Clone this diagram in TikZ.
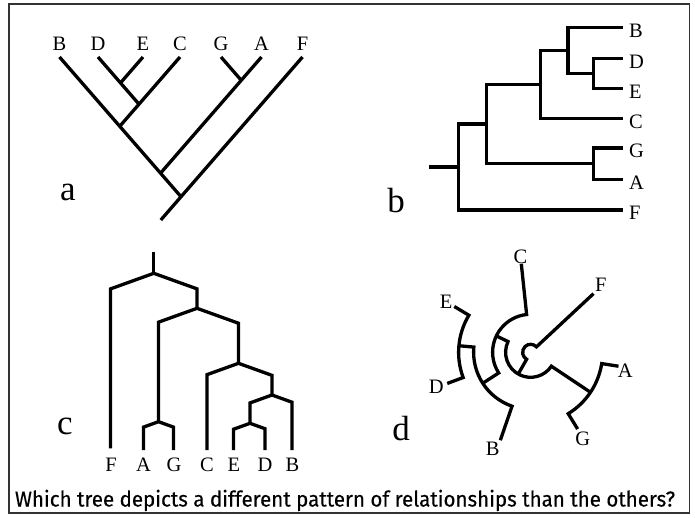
\documentclass[tikz,border=0pt]{standalone}
\usepackage{fontspec}
\usepackage{graphicx}
\setmainfont{Liberation Serif}
\newfontfamily\capfont[BoldFont={Fira Sans}, BoldFeatures={FakeBold=0.35}]{Fira Sans}
\usetikzlibrary{calc}

% elbow pair for the slanted-shoulder tree: parent #1, children #2 and #3
\newcommand{\shoulderpair}[3]{%
  \draw[branch] let \p0=(#1), \p1=(#2), \p2=(#3) in
    (\p1) -- (\x1,{\y0-0.36*abs(\x1-\x0)}) -- (\p0)
          -- (\x2,{\y0-0.36*abs(\x2-\x0)}) -- (\p2);}

\begin{document}
\begin{tikzpicture}[x=1pt,y=-1pt,
  branch/.style={line width=3.3pt, line join=miter, line cap=butt},
  leaf/.style={font=\fontsize{20.5}{20.5}\selectfont, inner sep=0pt},
  panel/.style={font=\fontsize{35}{35}\selectfont, inner sep=0pt},
  frame/.style={line width=1.3pt, draw=black!80},
]
\useasboundingbox (0,0) rectangle (695,517);
\draw[frame] (9,4) rectangle (689.5,513);

% ---------- tree a: slanted cladogram ----------
\coordinate (aB) at (59.5,57);
\coordinate (aD) at (98,57);
\coordinate (aE) at (143,57);
\coordinate (aC) at (180,57);
\coordinate (aG) at (221,57);
\coordinate (aA) at (261.5,57);
\coordinate (aF) at (302.5,57);
\coordinate (aDE) at (120.5,82.9);
\coordinate (aDEC) at (139,104.2);
\coordinate (aBDEC) at (119.75,126.3);
\coordinate (aGA) at (241.25,80.3);
\coordinate (aSix) at (160.5,173.2);
\coordinate (aTop) at (181,196.7);
\coordinate (aRoot) at (160.8,220);
\draw[branch] (aB) -- (aTop);
\draw[branch] (aF) -- (aRoot);
\draw[branch] (aD) -- (aDEC);
\draw[branch] (aE) -- (aDE);
\draw[branch] (aC) -- (aBDEC);
\draw[branch] (aG) -- (aGA);
\draw[branch] (aA) -- (aSix);
\foreach \n/\x in {B/59.5,D/98,E/143,C/180,G/221,A/261.5,F/302.5}
  \node[leaf] (aL\n) at (\x,43.5) {\n};
\node[panel] (pa) at (68,192) {a};

% ---------- tree b: rectangular cladogram ----------
\coordinate (bB) at (622.5,27.5);
\coordinate (bD) at (622.5,58.5);
\coordinate (bE) at (622.5,88.5);
\coordinate (bC) at (622.5,118.5);
\coordinate (bG) at (622.5,148);
\coordinate (bA) at (622.5,179.5);
\coordinate (bF) at (622.5,210);
\coordinate (bDE) at (593.5,73.5);
\coordinate (bBDE) at (568,50.5);
\coordinate (bBDEC) at (540.5,84.5);
\coordinate (bGA) at (593.5,163.75);
\coordinate (bIn) at (486.5,124.1);
\coordinate (bR) at (458.5,167);
\coordinate (bStub) at (428.5,167);
\draw[branch] (bD) -| (bDE) |- (bE);
\draw[branch] (bB) -| (bBDE) |- (bDE);
\draw[branch] (bBDE) -| (bBDEC) |- (bC);
\draw[branch] (bG) -| (bGA) |- (bA);
\draw[branch] (bBDEC) -| (bIn) |- (bGA);
\draw[branch] (bIn) -| (bR) |- (bF);
\draw[branch] (bR) -- (bStub);
\foreach \n/\y in {B/27.5,D/58.5,E/88.5,C/118.5,G/148,A/179.5,F/210}
  \node[leaf, anchor=west] (bL\n) at (629,\y+3) {\n};
\node[panel] (pb) at (396,201) {b};

% ---------- tree c: shouldered cladogram ----------
\coordinate (cTop) at (153.8,251.7);
\coordinate (cR) at (153.8,273.3);
\coordinate (cF) at (110.5,448.3);
\coordinate (cN1) at (197,308.3);
\coordinate (cAG) at (158.5,421.7);
\coordinate (cN2) at (238.5,363.3);
\coordinate (cA) at (143.5,450);
\coordinate (cG) at (173.5,450);
\coordinate (cC) at (207,450);
\coordinate (cN3) at (272,395);
\coordinate (cDE) at (250,423.3);
\coordinate (cB) at (292,450);
\coordinate (cE) at (233.5,450);
\coordinate (cD) at (265,450);
\draw[branch] (cTop) -- (cR);
\shoulderpair{cR}{cF}{cN1}
\shoulderpair{cN1}{cAG}{cN2}
\shoulderpair{cAG}{cA}{cG}
\shoulderpair{cN2}{cC}{cN3}
\shoulderpair{cN3}{cDE}{cB}
\shoulderpair{cDE}{cE}{cD}
\foreach \n/\x in {F/111,A/143.5,G/174,C/207,E/234,D/265,B/292.5}
  \node[leaf] (cL\n) at (\x,465) {\n};
\node[panel] (pc) at (65,426) {c};

% ---------- tree d: circular cladogram ----------
\begin{scope}[shift={(530.6,352.3)}, y=1pt]
  \coordinate (dO) at (0,0);
  \coordinate (dCt) at (96:89);
  \coordinate (dEt) at (149:89);
  \coordinate (dDt) at (200.5:89);
  \coordinate (dBt) at (251:93);
  \coordinate (dGt) at (301.5:90);
  \coordinate (dAt) at (351:89);
  \coordinate (dFt) at (43:86);
  \coordinate (dDE) at (174.75:72);
  \coordinate (dBDE) at (212.9:57);
  \coordinate (dBDEC) at (154.45:38);
  \coordinate (dGA) at (326.25:72);
  \coordinate (dIn) at (240.35:25);
  \draw[branch] (dEt) -- (149:72) arc[start angle=149, end angle=200.5, radius=72] -- (dDt);
  \draw[branch] (dDE) -- (174.75:57) arc[start angle=174.75, end angle=251, radius=57] -- (dBt);
  \draw[branch] (dCt) -- (96:38) arc[start angle=96, end angle=212.9, radius=38] -- (dBDE);
  \draw[branch] (dGt) -- (301.5:72) arc[start angle=301.5, end angle=351, radius=72] -- (dAt);
  \draw[branch] (dBDEC) -- (154.45:25) arc[start angle=154.45, end angle=326.25, radius=25] -- (dGA);
  \draw[branch] (dFt) -- (43:8) arc[start angle=43, end angle=240.35, radius=8] -- (dIn);
  \node[leaf] (dLC) at (96:96.5) {C};
  \node[leaf] (dLF) at (44:97.5) {F};
  \node[leaf] (dLE) at (149:98.5) {E};
  \node[leaf] (dLD) at (200:100.5) {D};
  \node[leaf] (dLB) at (248.5:103.5) {B};
  \node[leaf] (dLG) at (301:101.5) {G};
  \node[leaf] (dLA) at (349:96.5) {A};
\end{scope}
\node[panel] (pd) at (401,429) {d};

% ---------- question ----------
\node[anchor=base, inner sep=0pt, font=\capfont\bfseries\fontsize{21.5}{21.5}\selectfont] (question) at (345,506.5)
  {\resizebox{660pt}{\height}{Which tree depicts a different pattern of relationships than the others?}};
\end{tikzpicture}
\end{document}
